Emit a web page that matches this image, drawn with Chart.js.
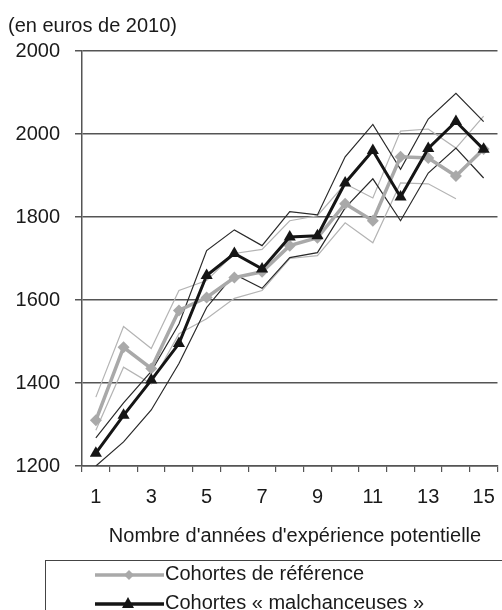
<!DOCTYPE html>
<html>
<head>
<meta charset="utf-8">
<script src="https://cdn.jsdelivr.net/npm/chart.js@4/dist/chart.umd.min.js"></script>
<style>
  html, body { margin: 0; padding: 0; background: #fff; overflow: hidden; }
  #wrap { position: relative; width: 508px; height: 610px; }
</style>
</head>
<body>
<div id="wrap"><canvas id="chart"></canvas></div>
<script>
const years = ['1','2','3','4','5','6','7','8','9','10','11','12','13','14','15'];
const yTickLabels = ['1200', '1400', '1600', '1800', '2000', '2000'];

const refMean = [1310, 1486, 1435, 1575, 1606, 1654, 1668, 1731, 1750, 1832, 1791, 1945, 1942, 1899, 1964];
const refHigh = [1366, 1536, 1483, 1623, 1647, 1712, 1722, 1791, 1803, 1880, 1846, 2007, 2012, 1966, 2043];
const refLow = [1286, 1438, 1398, 1519, 1555, 1604, 1623, 1700, 1707, 1786, 1738, 1882, 1880, 1844, null];

const unluckyMean = [1231, 1322, 1407, 1495, 1659, 1712, 1675, 1752, 1755, 1882, 1960, 1848, 1965, 2030, 1963];
const unluckyHigh = [1268, 1352, 1428, 1542, 1719, 1769, 1731, 1813, 1805, 1945, 2023, 1915, 2036, 2098, 2030];
const unluckyLow = [1200, 1258, 1335, 1447, 1582, 1662, 1628, 1702, 1714, 1822, 1892, 1791, 1906, 1966, 1894];

const legendLabels = ['Cohortes de référence', 'Cohortes « malchanceuses »'];
const yTitle = '(en euros de 2010)';
const xTitle = "Nombre d'années d'expérience potentielle";

const FONT = '"Liberation Sans", Arial, sans-serif';
const GREY = '#a9a9a9';
const BLACK = '#151515';
const AXIS = '#555';
const TEXT = '#1a1a1a';

function thin(data, color, order) {
  return { data, borderColor: color, borderWidth: 1.2, pointRadius: 0, fill: false, tension: 0, order, spanGaps: false };
}

// extra text + legend box drawn straight on the canvas
const extras = {
  id: 'extras',
  afterDraw(chart) {
    const c = chart.ctx;
    c.save();
    c.fillStyle = TEXT;
    c.font = '20px ' + FONT;
    c.textBaseline = 'middle';
    c.textAlign = 'left';
    c.fillText(yTitle, 8, 26);
    c.textAlign = 'center';
    c.fillText(xTitle, 295, 536);

    // legend frame
    c.strokeStyle = '#444';
    c.lineWidth = 1;
    c.strokeRect(45.5, 560.5, 600, 100);

    const rows = [
      { y: 575, color: GREY, mark: 'diamond' },
      { y: 604, color: BLACK, mark: 'triangle' }
    ];
    rows.forEach((r, i) => {
      c.strokeStyle = r.color;
      c.fillStyle = r.color;
      c.lineWidth = 3.5;
      c.beginPath(); c.moveTo(95, r.y); c.lineTo(164, r.y); c.stroke();
      c.beginPath();
      if (r.mark === 'diamond') {
        c.moveTo(129, r.y - 5); c.lineTo(134, r.y); c.lineTo(129, r.y + 5); c.lineTo(124, r.y);
      } else {
        c.moveTo(128, r.y - 7); c.lineTo(134, r.y + 4); c.lineTo(122, r.y + 4);
      }
      c.closePath(); c.fill();
      c.fillStyle = TEXT;
      c.textAlign = 'left';
      c.fillText(legendLabels[i], 165, r.y - 1);
    });
    c.restore();
  }
};

new Chart(document.getElementById('chart'), {
  type: 'line',
  data: {
    labels: years,
    datasets: [
      { data: unluckyMean, borderColor: BLACK, backgroundColor: BLACK, borderWidth: 3,
        pointStyle: 'triangle', pointRadius: 7, pointBorderWidth: 0, tension: 0, order: 0 },
      { data: refMean, borderColor: GREY, backgroundColor: GREY, borderWidth: 3.5,
        pointStyle: 'rectRot', pointRadius: 6, pointBorderWidth: 0, tension: 0, order: 1 },
      thin(unluckyHigh, '#2a2a2a', 2),
      thin(unluckyLow, '#2a2a2a', 2),
      thin(refHigh, '#b4b4b4', 3),
      thin(refLow, '#b4b4b4', 3)
    ]
  },
  options: {
    responsive: true,
    maintainAspectRatio: false,
    animation: false,
    layout: { padding: { top: 51, right: 2, bottom: 68, left: 0 } },
    plugins: { legend: { display: false }, tooltip: { enabled: false } },
    scales: {
      x: {
        offset: true,
        grid: { display: true, drawOnChartArea: false, color: AXIS, lineWidth: 1.2, tickLength: 6, offset: true },
        border: { display: true, color: AXIS, width: 1.5 },
        ticks: {
          color: TEXT, font: { size: 20, family: FONT }, padding: 13,
          autoSkip: false, maxRotation: 0,
          callback: (v, i) => (i % 2 === 0 ? years[i] : '')
        },
        afterFit: s => { s.height = 76; }
      },
      y: {
        min: 1200, max: 2200,
        grid: { color: AXIS, lineWidth: 1.5, tickLength: 7 },
        border: { display: true, color: AXIS, width: 1.5 },
        ticks: {
          stepSize: 200, color: TEXT, font: { size: 20, family: FONT }, padding: 15,
          callback: v => yTickLabels[Math.round((v - 1200) / 200)]
        },
        afterFit: s => { s.width = 82; }
      }
    }
  },
  plugins: [extras]
});
</script>
</body>
</html>
